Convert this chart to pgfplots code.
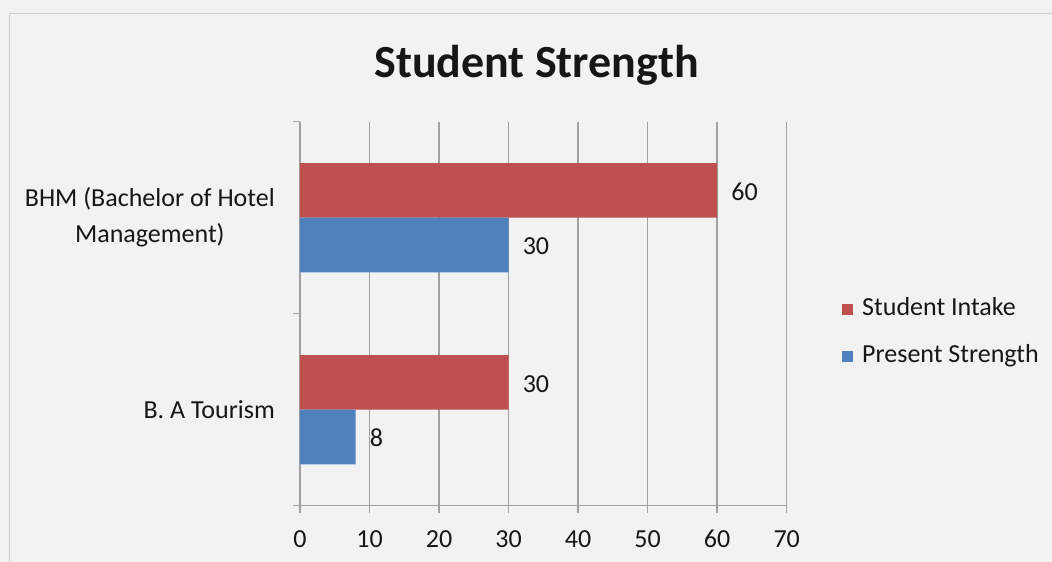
\documentclass[border=0pt]{standalone}
\usepackage{fontspec}
\setmainfont{Carlito}
\usepackage{pgfplots}
\pgfplotsset{compat=1.18}
\definecolor{bgc}{HTML}{F2F2F2}
\definecolor{redbar}{HTML}{C0504D}
\definecolor{bluebar}{HTML}{4F81BD}
\definecolor{gridc}{HTML}{A0A0A0}
\definecolor{txt}{HTML}{161616}
\begin{document}
\begin{tikzpicture}[x=1pt,y=1pt]
\path[use as bounding box] (0,0) rectangle (1052,-562);
\fill[bgc] (0,0) rectangle (1052,-562);
\draw[gray!40, line width=1.5pt] (9.5,-13.5) -- (1052,-13.5);
\draw[gray!40, line width=1.5pt] (9.5,-13.5) -- (9.5,-562);
\node[anchor=base, font=\fontsize{46}{46}\selectfont\bfseries, text=txt, inner sep=0pt] at (536.5,-77) {Student Strength};
\begin{axis}[
  at={(300pt,-505.7pt)}, anchor=south west,
  scale only axis, width=486.7pt, height=384pt,
  xmin=0, xmax=70, ymin=0, ymax=2,
  xtick={0,10,...,70},
  ytick={0,1,2}, yticklabels={},
  extra y ticks={0.5,1.5},
  extra y tick labels={B. A Tourism,{BHM (Bachelor of Hotel\\Management)}},
  extra y tick style={major tick length=0pt},
  axis lines*=left,
  axis line style={gridc, line width=1.5pt},
  tick style={gridc, line width=1.5pt},
  tick align=outside,
  major tick length=7pt,
  xmajorgrids=true,
  major grid style={gridc, line width=1.5pt},
  /pgf/number format/assume math mode=true,
  xticklabel style={font=\fontsize{26}{26}\selectfont, text=txt, inner sep=0pt, anchor=base, yshift=-35pt},
  yticklabel style={font=\fontsize{26}{36}\selectfont, text=txt, inner sep=0pt, align=center, anchor=east, xshift=-25pt},
  legend style={at={(1.1137,0.45)}, anchor=west, draw=none, fill=none, inner sep=0pt,
    font=\fontsize{26}{26}\selectfont, text=txt, row sep=23pt,
    nodes={inner sep=0pt, text height=18pt, text depth=6pt},
    /tikz/every odd column/.append style={column sep=9pt}},
  legend image code/.code={\fill[#1] (0pt,-5.5pt) rectangle (11pt,5.5pt);},
  legend cell align=left,
  point meta=x,
  nodes near coords,
  nodes near coords align={horizontal},
  every node near coord/.append style={font=\fontsize{26}{26}\selectfont, text=txt, inner sep=0pt, anchor=west, xshift=14pt},
]
\addplot[xbar, bar width=54.6pt, bar shift=27.3pt, fill=redbar, draw=none,
  every node near coord/.append style={yshift=26pt}] coordinates {(30,0.5) (60,1.5)};
\addlegendentry{Student Intake}
\addplot[xbar, bar width=54.6pt, bar shift=-27.3pt, fill=bluebar, draw=none,
  every node near coord/.append style={yshift=-28pt}] coordinates {(8,0.5) (30,1.5)};
\addlegendentry{Present Strength}
\end{axis}
\end{tikzpicture}
\end{document}
